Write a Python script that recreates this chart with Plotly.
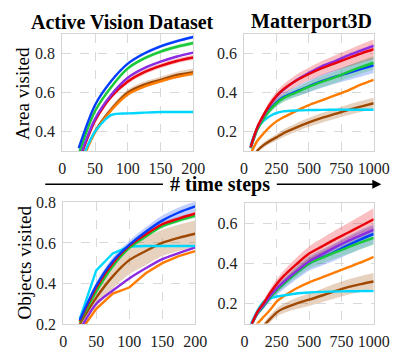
import plotly.graph_objects as go

# ---------------- data ----------------
avd_steps = [25, 50, 75, 100, 125, 150, 175, 200]
mp_steps = [50, 100, 150, 200, 250, 300, 400, 500, 600, 700, 800, 900, 1000]

# Active Vision Dataset - Area visited
avd_area_blue = [0.315, 0.536, 0.66, 0.748, 0.80, 0.837, 0.864, 0.885]
avd_area_green = [0.285, 0.505, 0.63, 0.724, 0.775, 0.81, 0.835, 0.854]
avd_area_purple = [0.255, 0.465, 0.59, 0.676, 0.725, 0.758, 0.785, 0.805]
avd_area_red = [0.245, 0.455, 0.58, 0.657, 0.705, 0.737, 0.762, 0.78]
avd_area_brown = [0.22, 0.40, 0.515, 0.60, 0.64, 0.665, 0.69, 0.705]
avd_area_orange = [0.21, 0.395, 0.51, 0.59, 0.63, 0.657, 0.68, 0.697]
avd_area_cyan = [0.22, 0.40, 0.485, 0.493, 0.497, 0.50, 0.50, 0.50]
avd_area_blue_sd = [0.008, 0.008, 0.008, 0.008, 0.008, 0.008, 0.008, 0.008]
avd_area_green_sd = [0.01, 0.01, 0.01, 0.01, 0.01, 0.01, 0.01, 0.01]
avd_area_purple_sd = [0.005, 0.005, 0.005, 0.005, 0.005, 0.005, 0.005, 0.005]
avd_area_red_sd = [0.012, 0.012, 0.012, 0.012, 0.012, 0.012, 0.012, 0.012]
avd_area_brown_sd = [0.012, 0.014, 0.015, 0.015, 0.016, 0.016, 0.017, 0.018]
avd_area_orange_sd = [0.004, 0.004, 0.004, 0.004, 0.004, 0.004, 0.004, 0.004]
avd_area_cyan_sd = [0.0, 0.0, 0.0, 0.0, 0.0, 0.0, 0.0, 0.0]

# Matterport3D - Area visited
mp_area_red = [0.12, 0.22, 0.285, 0.34, 0.383, 0.415, 0.46, 0.495, 0.525, 0.55, 0.575, 0.60, 0.622]
mp_area_purple = [0.12, 0.215, 0.28, 0.335, 0.38, 0.413, 0.462, 0.50, 0.535, 0.56, 0.59, 0.615, 0.64]
mp_area_green = [0.115, 0.205, 0.265, 0.31, 0.345, 0.37, 0.40, 0.43, 0.455, 0.478, 0.505, 0.53, 0.553]
mp_area_blue = [0.115, 0.21, 0.27, 0.315, 0.35, 0.375, 0.405, 0.432, 0.458, 0.48, 0.50, 0.52, 0.54]
mp_area_orange = [0.085, 0.15, 0.19, 0.225, 0.252, 0.272, 0.305, 0.335, 0.36, 0.385, 0.41, 0.44, 0.465]
mp_area_cyan = [0.13, 0.215, 0.255, 0.28, 0.295, 0.303, 0.308, 0.31, 0.311, 0.312, 0.312, 0.312, 0.312]
mp_area_brown = [0.04, 0.10, 0.13, 0.152, 0.17, 0.19, 0.22, 0.247, 0.27, 0.29, 0.31, 0.328, 0.345]
mp_area_red_sd = [0.005, 0.01, 0.015, 0.02, 0.022, 0.025, 0.03, 0.033, 0.037, 0.04, 0.043, 0.047, 0.05]
mp_area_purple_sd = [0.003, 0.004, 0.005, 0.006, 0.006, 0.007, 0.007, 0.008, 0.008, 0.008, 0.009, 0.009, 0.01]
mp_area_green_sd = [0.004, 0.008, 0.012, 0.015, 0.018, 0.02, 0.023, 0.026, 0.028, 0.03, 0.032, 0.034, 0.035]
mp_area_blue_sd = [0.004, 0.008, 0.012, 0.016, 0.02, 0.022, 0.026, 0.03, 0.033, 0.035, 0.037, 0.039, 0.04]
mp_area_orange_sd = [0.003, 0.003, 0.004, 0.004, 0.004, 0.005, 0.005, 0.005, 0.005, 0.005, 0.005, 0.005, 0.005]
mp_area_cyan_sd = [0.002, 0.002, 0.002, 0.002, 0.002, 0.002, 0.002, 0.002, 0.002, 0.002, 0.002, 0.002, 0.002]
mp_area_brown_sd = [0.005, 0.01, 0.013, 0.015, 0.017, 0.019, 0.021, 0.023, 0.025, 0.026, 0.027, 0.028, 0.03]

# Active Vision Dataset - Objects visited
avd_obj_blue = [0.22, 0.39, 0.51, 0.59, 0.655, 0.71, 0.75, 0.78]
avd_obj_red = [0.215, 0.38, 0.50, 0.585, 0.642, 0.692, 0.72, 0.745]
avd_obj_green = [0.21, 0.36, 0.485, 0.575, 0.632, 0.682, 0.71, 0.733]
avd_obj_brown = [0.20, 0.33, 0.435, 0.515, 0.56, 0.60, 0.625, 0.645]
avd_obj_purple = [0.17, 0.30, 0.365, 0.425, 0.475, 0.52, 0.55, 0.578]
avd_obj_orange = [0.16, 0.275, 0.35, 0.38, 0.45, 0.50, 0.535, 0.56]
avd_obj_cyan = [0.225, 0.465, 0.548, 0.582, 0.585, 0.585, 0.585, 0.585]
avd_obj_blue_sd = [0.01, 0.015, 0.02, 0.02, 0.022, 0.025, 0.025, 0.025]
avd_obj_red_sd = [0.006, 0.008, 0.01, 0.01, 0.01, 0.01, 0.01, 0.01]
avd_obj_green_sd = [0.006, 0.008, 0.01, 0.01, 0.01, 0.01, 0.01, 0.01]
avd_obj_brown_sd = [0.02, 0.045, 0.06, 0.07, 0.07, 0.065, 0.065, 0.065]
avd_obj_purple_sd = [0.003, 0.003, 0.003, 0.003, 0.003, 0.003, 0.003, 0.003]
avd_obj_orange_sd = [0.0, 0.0, 0.0, 0.0, 0.0, 0.0, 0.0, 0.0]
avd_obj_cyan_sd = [0.0, 0.0, 0.0, 0.0, 0.0, 0.0, 0.0, 0.0]

# Matterport3D - Objects visited
mp_obj_red = [0.09, 0.16, 0.205, 0.255, 0.298, 0.335, 0.395, 0.449, 0.485, 0.52, 0.553, 0.587, 0.62]
mp_obj_purple = [0.09, 0.155, 0.195, 0.24, 0.275, 0.305, 0.36, 0.41, 0.445, 0.48, 0.512, 0.54, 0.568]
mp_obj_green = [0.09, 0.15, 0.19, 0.233, 0.267, 0.297, 0.352, 0.40, 0.428, 0.455, 0.48, 0.505, 0.528]
mp_obj_blue = [0.09, 0.15, 0.19, 0.233, 0.267, 0.297, 0.352, 0.40, 0.43, 0.458, 0.49, 0.52, 0.547]
mp_obj_orange = [0.06, 0.10, 0.135, 0.17, 0.211, 0.235, 0.275, 0.306, 0.33, 0.355, 0.38, 0.405, 0.433]
mp_obj_cyan = [0.10, 0.165, 0.21, 0.225, 0.235, 0.24, 0.25, 0.255, 0.258, 0.26, 0.261, 0.262, 0.262]
mp_obj_brown = [0.02, 0.05, 0.09, 0.125, 0.156, 0.175, 0.20, 0.219, 0.24, 0.262, 0.282, 0.297, 0.31]
mp_obj_red_sd = [0.005, 0.01, 0.015, 0.02, 0.024, 0.027, 0.032, 0.036, 0.04, 0.044, 0.047, 0.051, 0.055]
mp_obj_purple_sd = [0.003, 0.005, 0.007, 0.009, 0.01, 0.012, 0.014, 0.015, 0.016, 0.017, 0.018, 0.019, 0.02]
mp_obj_green_sd = [0.004, 0.008, 0.012, 0.015, 0.018, 0.02, 0.024, 0.027, 0.029, 0.031, 0.033, 0.034, 0.035]
mp_obj_blue_sd = [0.004, 0.01, 0.015, 0.02, 0.024, 0.027, 0.032, 0.036, 0.04, 0.043, 0.046, 0.048, 0.05]
mp_obj_orange_sd = [0.003, 0.003, 0.003, 0.003, 0.003, 0.003, 0.003, 0.003, 0.003, 0.003, 0.003, 0.003, 0.003]
mp_obj_cyan_sd = [0.002, 0.002, 0.002, 0.002, 0.002, 0.002, 0.002, 0.002, 0.002, 0.002, 0.002, 0.002, 0.002]
mp_obj_brown_sd = [0.005, 0.01, 0.014, 0.018, 0.021, 0.024, 0.028, 0.031, 0.034, 0.036, 0.038, 0.04, 0.042]

avd_ticks = [0, 50, 100, 150, 200]
mp_ticks = [0, 250, 500, 750, 1000]

# ---------------- styling ----------------
COLORS = {
    "blue": (2, 62, 255),
    "orange": (255, 124, 0),
    "green": (26, 201, 56),
    "red": (232, 0, 11),
    "purple": (139, 43, 226),
    "brown": (159, 72, 0),
    "cyan": (0, 215, 255),
}
FONT = "Liberation Serif"
# the page body keeps its default 8px margin: the figure starts 8px in,
# so it is sized to reach exactly the window edges
OFF = 8
W, H = 403 - OFF, 353 - OFF

panels = [
    ("x", "y", avd_steps, [
        ("brown", avd_area_brown, avd_area_brown_sd, True),
        ("orange", avd_area_orange, avd_area_orange_sd, True),
        ("cyan", avd_area_cyan, avd_area_cyan_sd, True),
        ("red", avd_area_red, avd_area_red_sd, True),
        ("purple", avd_area_purple, avd_area_purple_sd, True),
        ("green", avd_area_green, avd_area_green_sd, True),
        ("blue", avd_area_blue, avd_area_blue_sd, True),
    ]),
    ("x2", "y2", mp_steps, [
        ("brown", mp_area_brown, mp_area_brown_sd, True),
        ("orange", mp_area_orange, mp_area_orange_sd, True),
        ("cyan", mp_area_cyan, mp_area_cyan_sd, True),
        ("blue", mp_area_blue, mp_area_blue_sd, True),
        ("green", mp_area_green, mp_area_green_sd, True),
        ("purple", mp_area_purple, mp_area_purple_sd, True),
        ("red", mp_area_red, mp_area_red_sd, True),
    ]),
    ("x3", "y3", avd_steps, [
        ("brown", avd_obj_brown, avd_obj_brown_sd, True),
        ("orange", avd_obj_orange, avd_obj_orange_sd, False),
        ("purple", avd_obj_purple, avd_obj_purple_sd, True),
        ("cyan", avd_obj_cyan, avd_obj_cyan_sd, False),
        ("green", avd_obj_green, avd_obj_green_sd, True),
        ("red", avd_obj_red, avd_obj_red_sd, True),
        ("blue", avd_obj_blue, avd_obj_blue_sd, True),
    ]),
    ("x4", "y4", mp_steps, [
        ("brown", mp_obj_brown, mp_obj_brown_sd, True),
        ("orange", mp_obj_orange, mp_obj_orange_sd, True),
        ("cyan", mp_obj_cyan, mp_obj_cyan_sd, True),
        ("blue", mp_obj_blue, mp_obj_blue_sd, True),
        ("green", mp_obj_green, mp_obj_green_sd, True),
        ("purple", mp_obj_purple, mp_obj_purple_sd, True),
        ("red", mp_obj_red, mp_obj_red_sd, True),
    ]),
]

fig = go.Figure()
for xa, ya, steps, series in panels:
    for name, vals, sd, smooth in series:
        r, g, b = COLORS[name]
        if max(sd) > 0:
            upper = [v + s for v, s in zip(vals, sd)]
            lower = [v - s for v, s in zip(vals, sd)]
            fig.add_trace(go.Scatter(
                x=steps, y=upper, mode="lines",
                line=dict(width=0, shape="spline", smoothing=0.8),
                hoverinfo="skip", showlegend=False, xaxis=xa, yaxis=ya))
            fig.add_trace(go.Scatter(
                x=steps, y=lower, mode="lines", fill="tonexty",
                fillcolor=f"rgba({r},{g},{b},0.25)",
                line=dict(width=0, shape="spline", smoothing=0.8),
                hoverinfo="skip", showlegend=False, xaxis=xa, yaxis=ya))
    for name, vals, sd, smooth in series:
        r, g, b = COLORS[name]
        fig.add_trace(go.Scatter(
            x=steps, y=vals, mode="lines",
            line=dict(color=f"rgb({r},{g},{b})", width=2.4,
                      shape="spline" if smooth else "linear", smoothing=0.8),
            showlegend=False, xaxis=xa, yaxis=ya))

def px_dom(a, b):
    return [(a - OFF) / W, (b - OFF) / W]

def py_dom(top, bottom):
    return [1 - (bottom - OFF) / H, 1 - (top - OFF) / H]

axis_common = dict(
    showline=True, mirror=True, linecolor="#d4d4d4", linewidth=1,
    showgrid=True, gridcolor="#d9d9d9", griddash="dash", gridwidth=1,
    zeroline=False, ticks="", tickfont=dict(family=FONT, size=16, color="#222"),
    ticklabelstandoff=3,
)

fig.update_layout(
    width=W, height=H, margin=dict(l=0, r=0, t=0, b=0),
    paper_bgcolor="white", plot_bgcolor="white",
    font=dict(family=FONT, color="#111"),
    xaxis=dict(domain=px_dom(61, 199), range=[0, 200], tickvals=avd_ticks, anchor="y", **axis_common),
    yaxis=dict(domain=py_dom(27, 150), range=[0.3, 0.9], tickvals=[0.4, 0.6, 0.8], tickformat=".1f", anchor="x", **axis_common),
    xaxis2=dict(domain=px_dom(252.5, 389), range=[0, 1000], tickvals=mp_ticks, anchor="y2", **axis_common),
    yaxis2=dict(domain=py_dom(27, 150), range=[0.1, 0.7], tickvals=[0.2, 0.4, 0.6], tickformat=".1f", anchor="x2", **axis_common),
    xaxis3=dict(domain=px_dom(62, 201), range=[0, 200], tickvals=avd_ticks, anchor="y3", **axis_common),
    yaxis3=dict(domain=py_dom(204, 332), range=[0.2, 0.8], tickvals=[0.2, 0.4, 0.6, 0.8], tickformat=".1f", anchor="x3", **axis_common),
    xaxis4=dict(domain=px_dom(253, 389), range=[0, 1000], tickvals=mp_ticks, anchor="y4", **axis_common),
    yaxis4=dict(domain=py_dom(205, 331.5), range=[0.1, 0.7], tickvals=[0.2, 0.4, 0.6], tickformat=".1f", anchor="x4", **axis_common),
)

def ann(text, xpx, ypx, size, bold=False, angle=0):
    fig.add_annotation(
        text=f"<b>{text}</b>" if bold else text,
        x=(xpx - OFF) / W, y=1 - (ypx - OFF) / H, xref="paper", yref="paper",
        xanchor="center", yanchor="middle", showarrow=False, textangle=angle,
        font=dict(family=FONT, size=size, color="#000"))

ann("Active Vision Dataset", 124, 14, 20, bold=True)
ann("Matterport3D", 323.5, 14, 20, bold=True)
ann("# time steps", 227.5, 185, 20, bold=True)
ann("Area visited", 19, 89.5, 19, angle=-90)
ann("Objects visited", 21.5, 267.5, 19, angle=-90)

# arrows of the shared x label
fig.add_shape(type="line", xref="paper", yref="paper",
              x0=(43 - OFF) / W, x1=(167 - OFF) / W,
              y0=1 - (185 - OFF) / H, y1=1 - (185 - OFF) / H,
              line=dict(color="black", width=1.5))
fig.add_annotation(x=(397 - OFF) / W, y=1 - (185 - OFF) / H, xref="paper", yref="paper",
                   ax=-106, ay=0, text="", showarrow=True,
                   arrowhead=2, arrowsize=1.2, arrowwidth=1.5, arrowcolor="black")

fig.write_html("out.html")
